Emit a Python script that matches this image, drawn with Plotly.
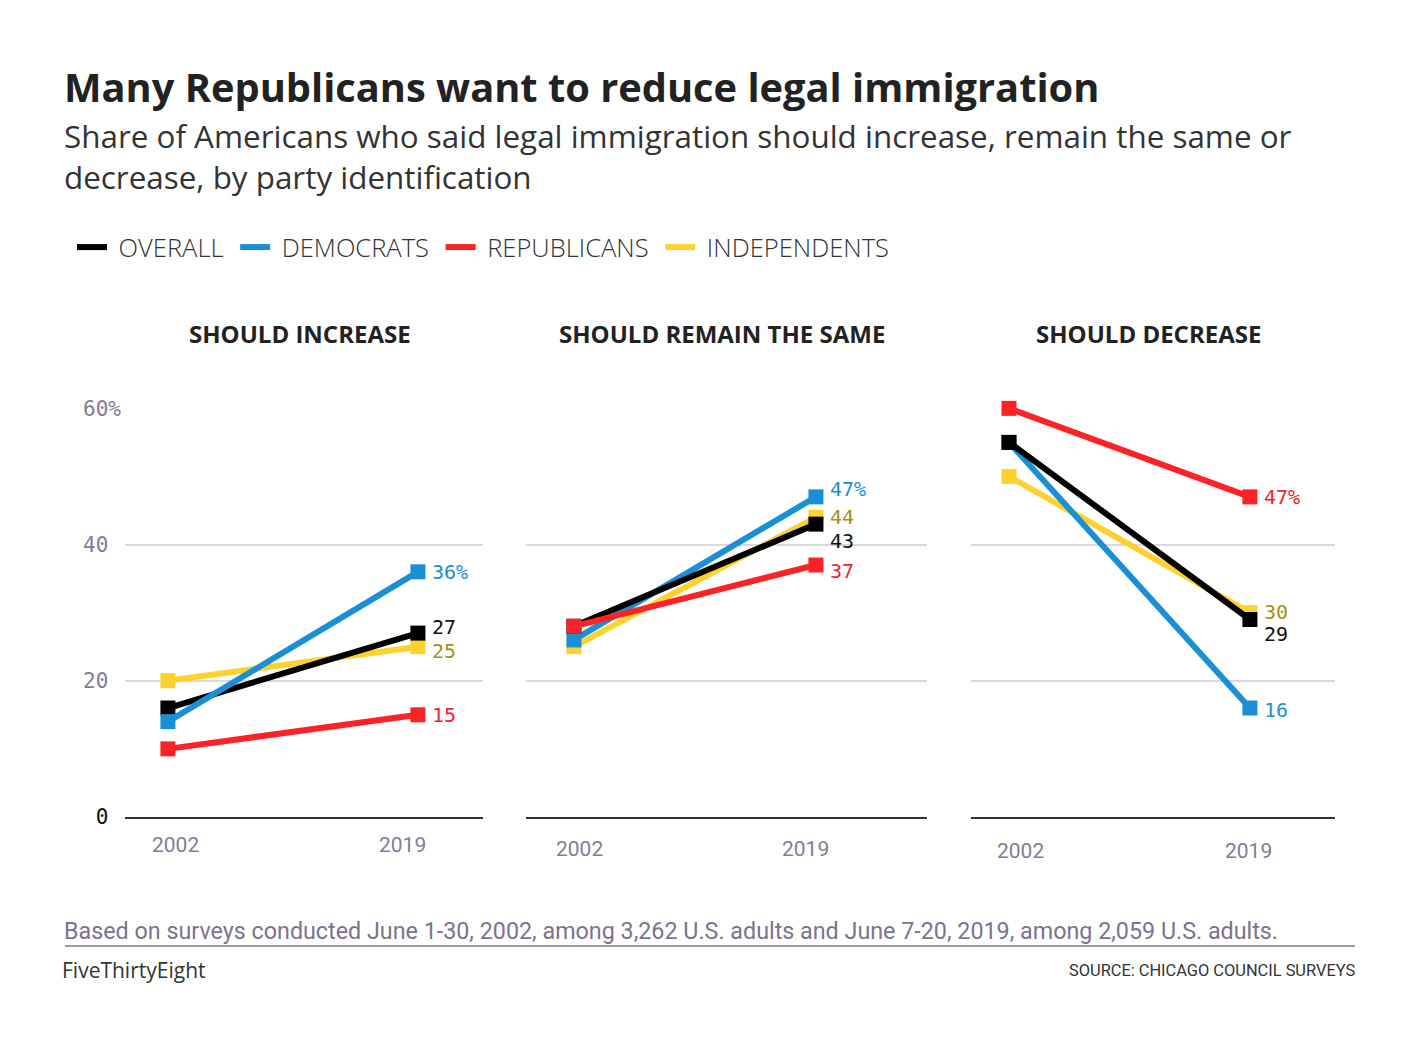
import plotly.graph_objects as go

years = [2002, 2019]
panels = ["SHOULD INCREASE", "SHOULD REMAIN THE SAME", "SHOULD DECREASE"]
groups = ["OVERALL", "DEMOCRATS", "REPUBLICANS", "INDEPENDENTS"]

# values per panel: [2002, 2019]
overall = [[16, 27], [28, 43], [55, 29]]
democrats = [[14, 36], [26, 47], [55, 16]]
republicans = [[10, 15], [28, 37], [60, 47]]
independents = [[20, 25], [25, 44], [50, 30]]

NB = "\u00a0"
y_ticks = [0, 20, 40, 60]
y_ticktext = ["<span style='color:#111'>0</span>" + NB, "20" + NB, "40" + NB, "60%"]

series = {"OVERALL": overall, "DEMOCRATS": democrats,
          "REPUBLICANS": republicans, "INDEPENDENTS": independents}
line_col = {"OVERALL": "#000000", "DEMOCRATS": "#1b8fd5",
            "REPUBLICANS": "#fb2228", "INDEPENDENTS": "#fdd12e"}
text_col = {"OVERALL": "#111111", "DEMOCRATS": "#1b8fd5",
            "REPUBLICANS": "#f2222a", "INDEPENDENTS": "#a88f1c"}

# drawing order per panel (last on top)
order = [["INDEPENDENTS", "OVERALL", "DEMOCRATS", "REPUBLICANS"],
         ["INDEPENDENTS", "DEMOCRATS", "OVERALL", "REPUBLICANS"],
         ["INDEPENDENTS", "DEMOCRATS", "OVERALL", "REPUBLICANS"]]
# small vertical nudges (px) for end labels so they don't collide
label_shift = [{"OVERALL": 6, "DEMOCRATS": 0, "REPUBLICANS": 0, "INDEPENDENTS": -4},
               {"OVERALL": -17, "DEMOCRATS": 8, "REPUBLICANS": -6, "INDEPENDENTS": 0},
               {"OVERALL": -15, "DEMOCRATS": -2, "REPUBLICANS": 0, "INDEPENDENTS": 1}]

x_domains = [[0.0880, 0.3401], [0.3704, 0.6528], [0.6838, 0.9401]]
x_ranges = [[1999.08, 2023.42], [1998.63, 2026.8], [1999.32, 2025.0]]
# year label nudges (px): horizontal per year, vertical drop below the axis
year_xshift = [[8, -15], [6, -10], [12, -1]]
year_drop = [28, 32, 34]
y_domain = [0.2197, 0.6103]

MONO = "DejaVu Sans Mono"
SANS = "Roboto"
WIDE = "Open Sans"

fig = go.Figure()

for p in range(3):
    ax = "" if p == 0 else str(p + 1)
    for g in order[p]:
        fig.add_trace(go.Scatter(
            x=years, y=series[g][p], mode="lines+markers",
            line=dict(color=line_col[g], width=6),
            marker=dict(symbol="square", size=15, color=line_col[g]),
            xaxis="x" + ax, yaxis="y" + ax, showlegend=False,
            cliponaxis=False, hoverinfo="skip"))
    top = max(series[g][p][1] for g in groups)
    for g in groups:
        v = series[g][p][1]
        fig.add_annotation(
            x=years[1], y=v, xref="x" + ax, yref="y" + ax,
            text=f"{v}%" if v == top else str(v), showarrow=False,
            xanchor="left", yanchor="middle", xshift=12, yshift=label_shift[p][g],
            font=dict(family=MONO, size=20, color=text_col[g]))
    for i, yr in enumerate(years):
        fig.add_annotation(
            x=yr, y=0, xref="x" + ax, yref="y" + ax, text=str(yr), showarrow=False,
            xanchor="center", yanchor="middle",
            xshift=year_xshift[p][i], yshift=-year_drop[p],
            font=dict(family=SANS, size=21, color="#857b94"))
    fig.add_annotation(
        x=sum(x_domains[p]) / 2 - 4 / 1420, y=1 - 333 / 1047, xref="paper", yref="paper",
        text=f"<b>{panels[p]}</b>", showarrow=False, xanchor="center", yanchor="middle",
        font=dict(family=WIDE, size=24, color="#222222"))

    fig.update_layout(**{
        "xaxis" + ax: dict(domain=x_domains[p], range=x_ranges[p], showticklabels=False,
                           showgrid=False, zeroline=False, showline=True,
                           linecolor="#333333", linewidth=2, ticks="",
                           anchor="y" + ax, automargin=False),
        "yaxis" + ax: dict(domain=y_domain, range=[0, 60.05], tickvals=y_ticks,
                           ticktext=y_ticktext, showticklabels=(p == 0),
                           showgrid=True, gridcolor="#d9d9d9", gridwidth=1.5,
                           zeroline=False, showline=False, ticks="",
                           ticklabelstandoff=3,
                           anchor="x" + ax, automargin=False,
                           tickfont=dict(family=MONO, size=21, color="#857b94")),
    })

# legend-only entries
for g in groups:
    fig.add_trace(go.Scatter(x=[None], y=[None], mode="lines", name=NB + g + NB,
                             line=dict(color=line_col[g], width=6),
                             showlegend=True))

fig.add_annotation(x=62 / 1420, y=1 - 86 / 1047, xref="paper", yref="paper",
                   text="<b>Many Republicans want to reduce legal immigration</b>",
                   showarrow=False, xanchor="left", yanchor="middle",
                   font=dict(family=WIDE, size=39.8, color="#222222"))
fig.add_annotation(x=62 / 1420, y=1 - 156 / 1047, xref="paper", yref="paper",
                   text="Share of Americans who said legal immigration should increase, remain the same or<br>decrease, by party identification",
                   showarrow=False, xanchor="left", yanchor="middle", align="left",
                   font=dict(family=WIDE, size=31.4, color="#333333"))
fig.add_annotation(x=62 / 1420, y=1 - 931 / 1047, xref="paper", yref="paper",
                   text="Based on surveys conducted June 1-30, 2002, among 3,262 U.S. adults and June 7-20, 2019, among 2,059 U.S. adults.",
                   showarrow=False, xanchor="left", yanchor="middle",
                   font=dict(family=SANS, size=23.3, color="#7d7290"))
fig.add_shape(type="line", xref="paper", yref="paper",
              x0=65 / 1420, x1=1355 / 1420, y0=1 - 946 / 1047, y1=1 - 946 / 1047,
              line=dict(color="#9a9a9a", width=2))
fig.add_annotation(x=60 / 1420, y=1 - 970 / 1047, xref="paper", yref="paper",
                   text="FiveThirtyEight", showarrow=False, xanchor="left", yanchor="middle",
                   font=dict(family=WIDE, size=21, color="#333333"))
fig.add_annotation(x=1357 / 1420, y=1 - 970 / 1047, xref="paper", yref="paper",
                   text="SOURCE: CHICAGO COUNCIL SURVEYS", showarrow=False,
                   xanchor="right", yanchor="middle",
                   font=dict(family=SANS, size=16.4, color="#333333"))

fig.update_layout(
    width=1420, height=1047,
    margin=dict(l=0, r=0, t=0, b=0, pad=0, autoexpand=False),
    paper_bgcolor="white", plot_bgcolor="white",
    legend=dict(orientation="h", x=72 / 1420, y=1 - 224 / 1047,
                xanchor="left", yanchor="top", itemwidth=30,
                font=dict(family=WIDE, size=25.5, color="#333333", weight=300),
                bgcolor="rgba(0,0,0,0)"),
)

fig.write_html("out.html", config={"displayModeBar": False},
               post_script="document.body.style.margin='0';")
